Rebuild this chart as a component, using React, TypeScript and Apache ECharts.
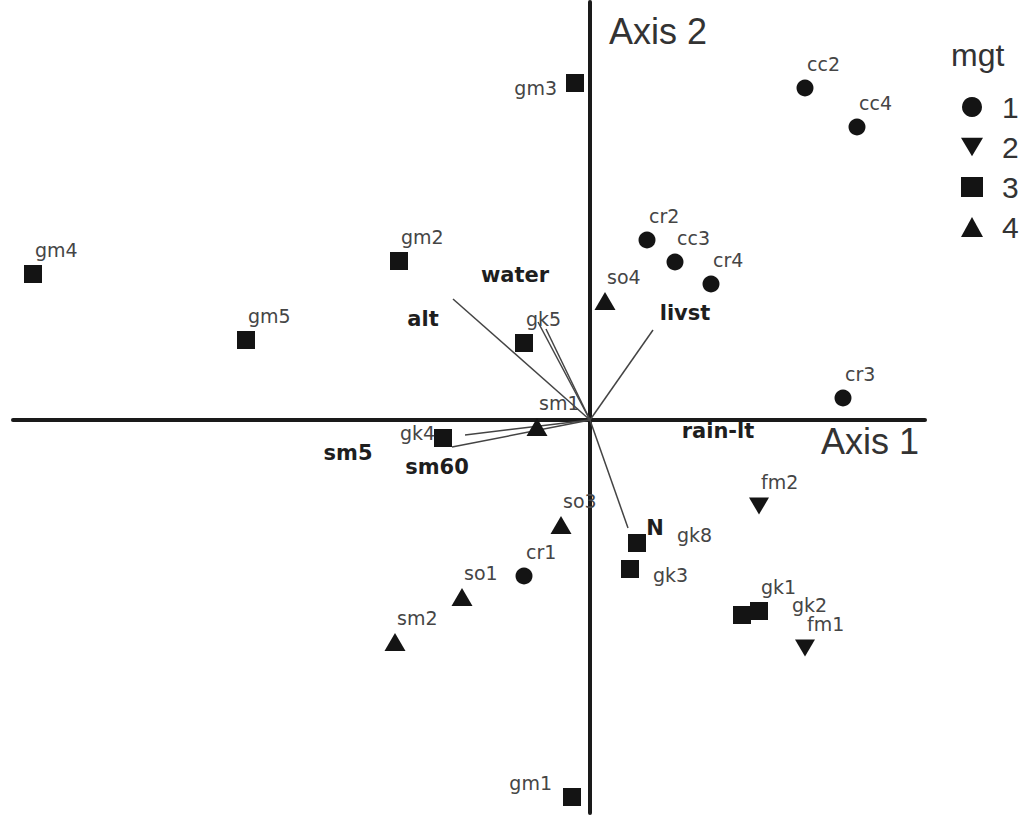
import { useEffect, useRef } from "react";
import * as echarts from "echarts";

// ---- data (ordination scores, arbitrary units) ----
const groupNames = ["1", "2", "3", "4"];

const mgt1Sites = ["cc2", "cc4", "cr2", "cc3", "cr4", "cr3", "cr1"];
const mgt1Scores = [
  [2.15, 3.32], [2.67, 2.93], [0.57, 1.8], [0.85, 1.58], [1.21, 1.36], [2.53, 0.22], [-0.66, -1.56],
];

const mgt2Sites = ["fm2", "fm1"];
const mgt2Scores = [
  [1.69, -0.86], [2.15, -2.28],
];

const mgt3Sites = ["gm3", "gm4", "gm2", "gm5", "gk5", "gk4", "gk8", "gk3", "gk1", "gk2", "gm1"];
const mgt3Scores = [
  [-0.15, 3.37], [-5.57, 1.46], [-1.91, 1.59], [-3.44, 0.8], [-0.66, 0.77], [-1.47, -0.18],
  [0.47, -1.23], [0.4, -1.49], [1.69, -1.91], [1.52, -1.95], [-0.18, -3.77],
];

const mgt4Sites = ["so4", "sm1", "so3", "so1", "sm2"];
const mgt4Scores = [
  [0.15, 1.19], [-0.53, -0.07], [-0.29, -1.05], [-1.28, -1.77], [-1.95, -2.22],
];

// environmental vectors (tips, from origin)
const vectorTips = [
  [-1.37, 1.21], [-0.52, 0.98], [-0.44, 0.91], [0.63, 0.9], [0.38, -1.08], [-1.25, -0.15], [-1.38, -0.27],
];
const vectorNames = ["water", "alt", "livst", "rain-lt", "N", "sm5", "sm60"];
const vectorLabelAt = [
  [-0.75, 1.45], [-1.67, 1.01], [0.95, 1.07], [1.28, -0.11], [0.65, -1.08], [-2.42, -0.33], [-1.53, -0.47],
];

const axisTitles = ["Axis 1", "Axis 2"];
const legendTitle = "mgt";

// ---- label placement (styling, px offsets from marker centre) ----
const labelPlacement: Record<string, [number, number, string]> = {
  gm3: [-18, 5, "right"],
  gm1: [-20, -14, "right"],
  gk4: [-43, -5, "left"],
  gk8: [40, -8, "left"],
  gk3: [23, 6, "left"],
  gk2: [50, -10, "left"],
};

const INK = "#141414";
const downTriangle = "path://M0,0L20,0L10,17Z";
const symbols = ["circle", downTriangle, "rect", "triangle"];
const symbolSizes: any[] = [17, [20, 17], 18, [21, 18]];

function siteData(names: string[], scores: number[][]) {
  return names.map((n, i) => {
    const p = labelPlacement[n] || [2, -24, "left"];
    return {
      name: n,
      value: scores[i],
      label: { offset: [p[0], p[1]], align: p[2] },
    };
  });
}

export default function App() {
  const ref = useRef<HTMLDivElement>(null);
  useEffect(() => {
    if (!ref.current) return;
    const chart = echarts.init(ref.current, undefined, { renderer: "svg" });
    const groups = [
      [mgt1Sites, mgt1Scores],
      [mgt2Sites, mgt2Scores],
      [mgt3Sites, mgt3Scores],
      [mgt4Sites, mgt4Scores],
    ] as [string[], number[][]][];

    const siteSeries = groups.map(([names, scores], gi) => ({
      type: "scatter",
      name: groupNames[gi],
      symbol: symbols[gi],
      symbolSize: symbolSizes[gi],
      itemStyle: { color: INK, opacity: 1 },
      z: 5,
      label: {
        show: true,
        formatter: "{b}",
        position: "inside",
        verticalAlign: "middle",
        fontFamily: "DejaVu Sans",
        fontSize: 19,
        color: "#454545",
      },
      data: siteData(names, scores),
    }));

    chart.setOption({
      animation: false,
      backgroundColor: "#ffffff",
      title: {
        text: legendTitle,
        left: 946,
        top: 34,
        textStyle: { fontSize: 32, fontWeight: "normal", fontFamily: "Liberation Sans", color: "#333" },
      },
      legend: {
        data: groupNames,
        orient: "vertical",
        left: 956,
        top: 87,
        itemWidth: 22,
        itemHeight: 20,
        itemGap: 10,
        textStyle: { fontSize: 30, fontFamily: "Liberation Sans", color: "#333", lineHeight: 30, padding: [0, 0, 0, 14] },
      },
      grid: { left: 13, right: 102, top: 2, bottom: 10 },
      xAxis: {
        type: "value",
        min: -5.77,
        max: 3.35,
        axisLine: { show: true, onZero: true, lineStyle: { color: "#1a1a1a", width: 4 } },
        axisTick: { show: false },
        axisLabel: { show: false },
        splitLine: { show: false },
      },
      yAxis: {
        type: "value",
        min: -3.93,
        max: 4.18,
        axisLine: { show: true, onZero: true, lineStyle: { color: "#1a1a1a", width: 4 } },
        axisTick: { show: false },
        axisLabel: { show: false },
        splitLine: { show: false },
      },
      graphic: [
        {
          type: "text",
          x: 870,
          y: 441,
          style: { text: axisTitles[0], align: "center", verticalAlign: "middle", fontSize: 36, fontFamily: "Liberation Sans", fill: "#333" },
        },
        {
          type: "text",
          x: 658,
          y: 31,
          style: { text: axisTitles[1], align: "center", verticalAlign: "middle", fontSize: 36, fontFamily: "Liberation Sans", fill: "#333" },
        },
      ],
      series: [
        {
          type: "lines",
          name: "vectors",
          coordinateSystem: "cartesian2d",
          polyline: false,
          silent: true,
          z: 3,
          lineStyle: { color: "#444", width: 1.5, opacity: 1 },
          data: vectorTips.map((t) => ({ coords: [[0, 0], t] })),
        },
        {
          type: "scatter",
          name: "vector labels",
          symbol: "circle",
          symbolSize: 1,
          itemStyle: { color: "rgba(0,0,0,0)", opacity: 1 },
          silent: true,
          z: 4,
          label: {
            show: true,
            formatter: "{b}",
            position: "inside",
            align: "center",
            verticalAlign: "middle",
            fontFamily: "DejaVu Sans",
            fontWeight: "bold",
            fontSize: 21,
            color: "#1e1e1e",
          },
          data: vectorNames.map((n, i) => ({ name: n, value: vectorLabelAt[i] })),
        },
        ...siteSeries,
      ],
    });
    return () => chart.dispose();
  }, []);
  return (
    <div
      ref={ref}
      style={{ position: "absolute", left: 0, top: 0, width: 1027, height: 823 }}
    />
  );
}
